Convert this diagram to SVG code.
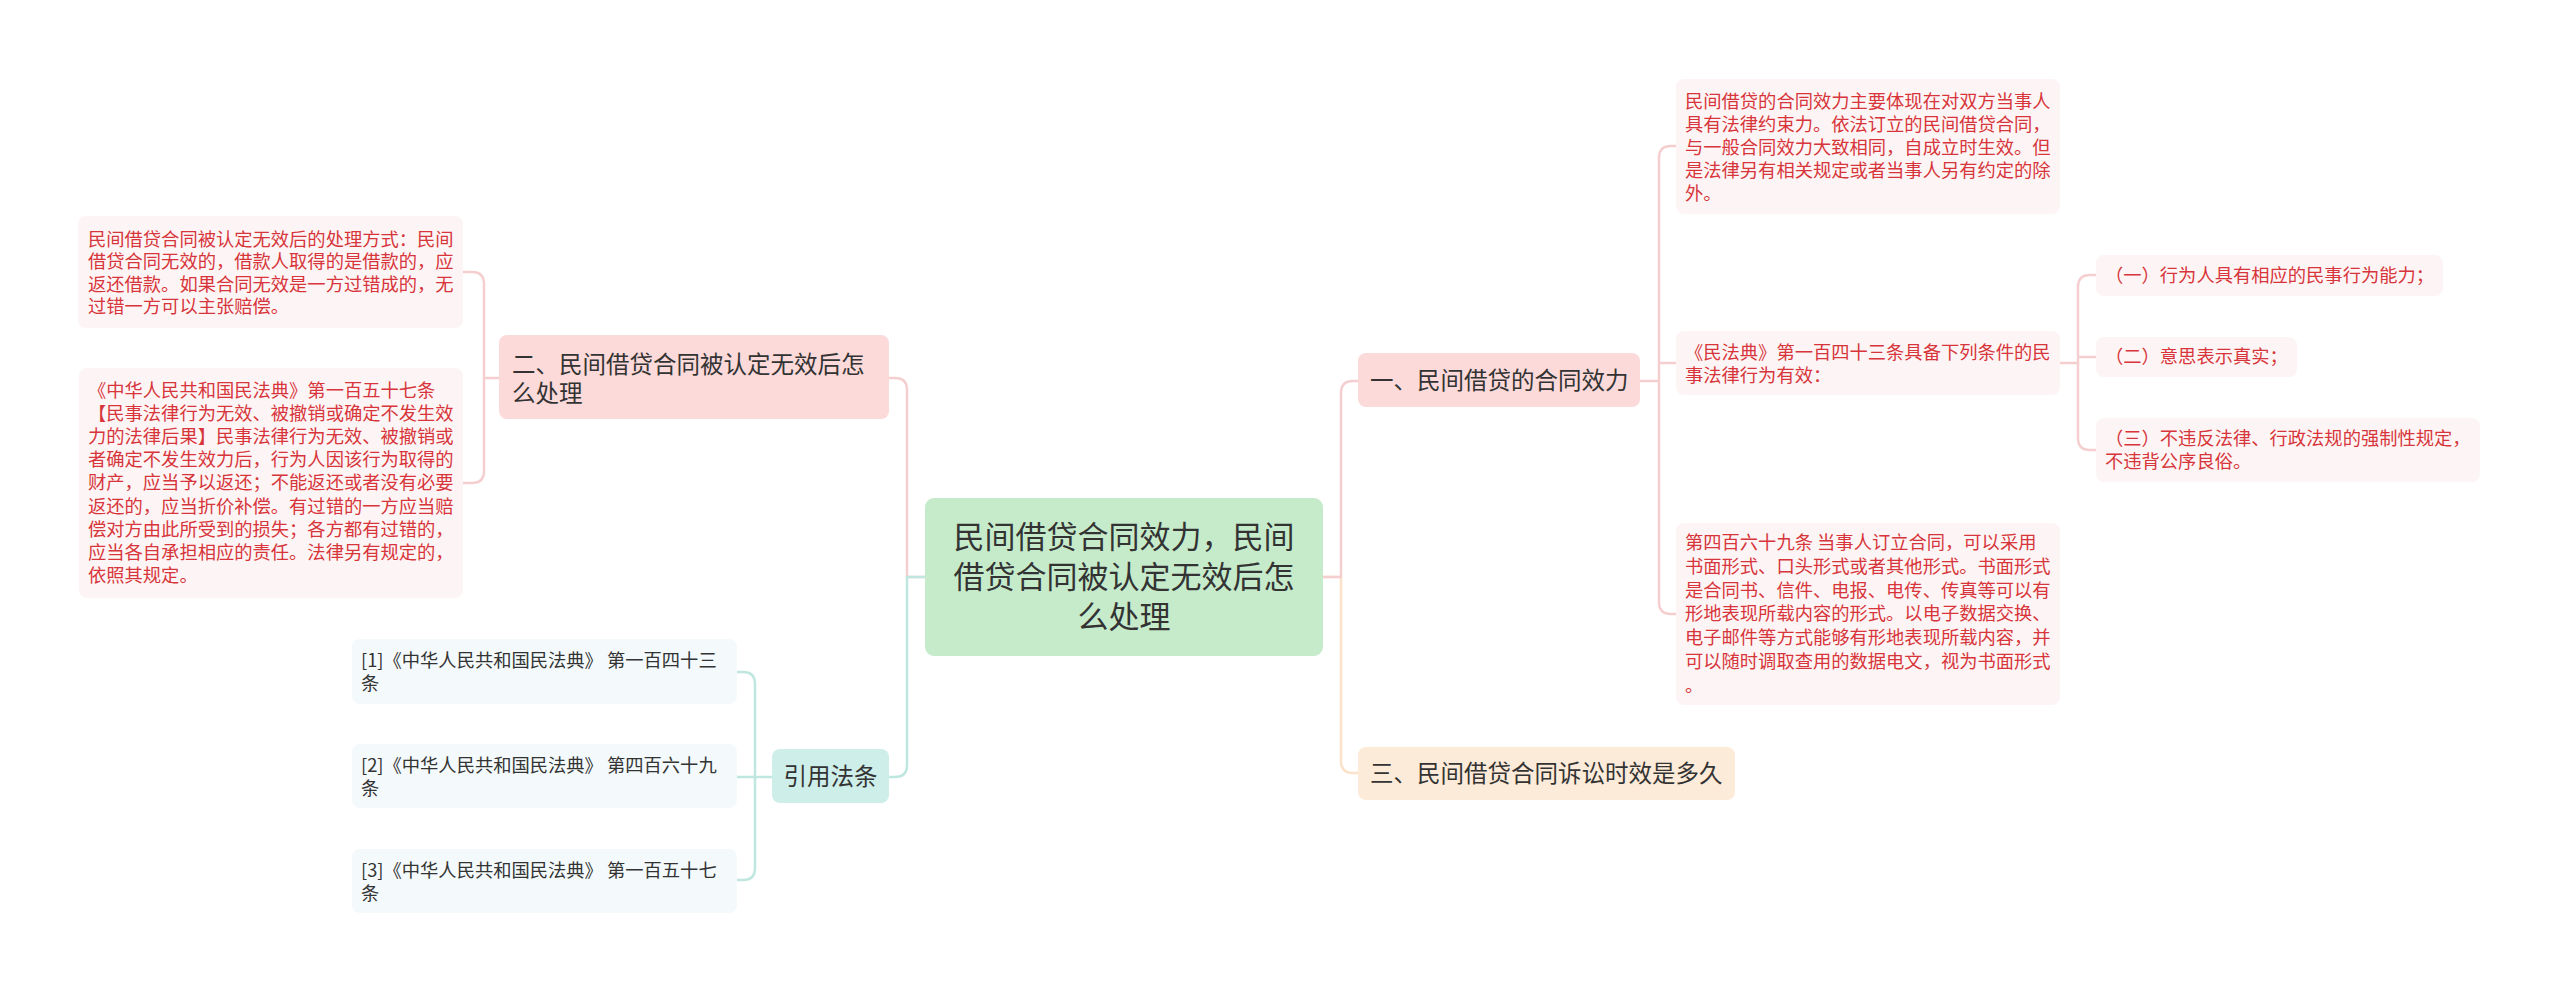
<svg xmlns="http://www.w3.org/2000/svg" width="2560" height="993" viewBox="0 0 2560 993">
<style>
text{font-family:"Noto Sans CJK SC","Noto Sans",sans-serif;}
.root rect{fill:#c6ebcb;}
.root text{font-size:31px;fill:#333;text-anchor:middle;}
.br text{font-size:23.5px;fill:#333;}
.pk rect{fill:#fcdada;}
.cr rect{fill:#fdebd9;}
.tl rect{fill:#ceeee9;}
.lf rect{fill:#fdf5f5;}
.lf text{font-size:18.3px;fill:#d7353b;}
.rf rect{fill:#f4fafb;}
.rf text{font-size:18.3px;fill:#333;}
.c{fill:none;stroke-width:2.5;}
.cp{stroke:#f5cfd0;}
.ct{stroke:#bfe7df;}
.cc{stroke:#fbe3cb;}
</style>
<rect width="2560" height="993" fill="#fff"/>
<g id="connectors">
<path class="c cp" d="M925,577 H907 V390 Q907,378 895,378 H889"/>
<path class="c ct" d="M925,577 H907 V765 Q907,777 895,777 H889"/>
<path class="c cp" d="M499,378 H484 V284 Q484,272 472,272 H463"/>
<path class="c cp" d="M484,378 V471 Q484,483 472,483 H463"/>
<path class="c ct" d="M772,777 H755 V684 Q755,672 743,672 H737"/>
<path class="c ct" d="M755,777 H737"/>
<path class="c ct" d="M755,777 V868 Q755,880 743,880 H737"/>
<path class="c cc" d="M1323,577 H1341 V761 Q1341,773 1353,773 H1358"/>
<path class="c cp" d="M1323,577 H1341 V393 Q1341,381 1353,381 H1358"/>
<path class="c cp" d="M1640,381 H1659 V158 Q1659,146 1671,146 H1676"/>
<path class="c cp" d="M1659,363 H1676"/>
<path class="c cp" d="M1659,381 V602 Q1659,614 1671,614 H1676"/>
<path class="c cp" d="M2060,363 H2078 V287 Q2078,275 2090,275 H2096"/>
<path class="c cp" d="M2078,357 H2096"/>
<path class="c cp" d="M2078,363 V438 Q2078,450 2090,450 H2096"/>
</g>
<g id="root" class="root">
<rect x="925" y="498" width="398" height="158" rx="9"/>
<text x="1124" y="548">民间借贷合同效力，民间</text>
<text x="1124" y="588">借贷合同被认定无效后怎</text>
<text x="1124" y="628">么处理</text>
</g>
<g id="branch2" class="br pk">
<rect x="499" y="335" width="390" height="84" rx="8"/>
<text x="512" y="373">二、民间借贷合同被认定无效后怎</text>
<text x="512" y="402">么处理</text>
</g>
<g id="leaf2a" class="lf">
<rect x="78" y="216" width="385" height="112" rx="8"/>
<text x="88" y="245.5">民间借贷合同被认定无效后的处理方式：民间</text>
<text x="88" y="268">借贷合同无效的，借款人取得的是借款的，应</text>
<text x="88" y="290.5">返还借款。如果合同无效是一方过错成的，无</text>
<text x="88" y="313">过错一方可以主张赔偿。</text>
</g>
<g id="leaf2b" class="lf">
<rect x="79" y="368" width="384" height="230" rx="8"/>
<text x="88" y="397">《中华人民共和国民法典》第一百五十七条</text>
<text x="88" y="420.1">【民事法律行为无效、被撤销或确定不发生效</text>
<text x="88" y="443.2">力的法律后果】民事法律行为无效、被撤销或</text>
<text x="88" y="466.3">者确定不发生效力后，行为人因该行为取得的</text>
<text x="88" y="489.4">财产，应当予以返还；不能返还或者没有必要</text>
<text x="88" y="512.5">返还的，应当折价补偿。有过错的一方应当赔</text>
<text x="88" y="535.6">偿对方由此所受到的损失；各方都有过错的，</text>
<text x="88" y="558.7">应当各自承担相应的责任。法律另有规定的，</text>
<text x="88" y="581.8">依照其规定。</text>
</g>
<g id="refs" class="br tl">
<rect x="772" y="749" width="117" height="54" rx="8"/>
<text x="830.5" y="785" text-anchor="middle">引用法条</text>
</g>
<g id="ref1" class="rf">
<rect x="352" y="639" width="385" height="65" rx="8"/>
<text x="361" y="666.5">[1]《中华人民共和国民法典》 第一百四十三</text>
<text x="361" y="690">条</text>
</g>
<g id="ref2" class="rf">
<rect x="352" y="744" width="385" height="64" rx="8"/>
<text x="361" y="771.5">[2]《中华人民共和国民法典》 第四百六十九</text>
<text x="361" y="795">条</text>
</g>
<g id="ref3" class="rf">
<rect x="352" y="849" width="385" height="64" rx="8"/>
<text x="361" y="876.5">[3]《中华人民共和国民法典》 第一百五十七</text>
<text x="361" y="900">条</text>
</g>
<g id="branch1" class="br pk">
<rect x="1358" y="353" width="282" height="54" rx="8"/>
<text x="1370" y="389">一、民间借贷的合同效力</text>
</g>
<g id="branch3" class="br cr">
<rect x="1358" y="747" width="377" height="53" rx="8"/>
<text x="1370" y="782">三、民间借贷合同诉讼时效是多久</text>
</g>
<g id="leaf1a" class="lf">
<rect x="1676" y="79" width="384" height="135" rx="8"/>
<text x="1685" y="107.5">民间借贷的合同效力主要体现在对双方当事人</text>
<text x="1685" y="130.5">具有法律约束力。依法订立的民间借贷合同，</text>
<text x="1685" y="153.5">与一般合同效力大致相同，自成立时生效。但</text>
<text x="1685" y="176.5">是法律另有相关规定或者当事人另有约定的除</text>
<text x="1685" y="199.5">外。</text>
</g>
<g id="leaf1b" class="lf">
<rect x="1676" y="331" width="384" height="64" rx="8"/>
<text x="1685" y="359">《民法典》第一百四十三条具备下列条件的民</text>
<text x="1685" y="382">事法律行为有效：</text>
</g>
<g id="leaf1c" class="lf">
<rect x="1676" y="523" width="384" height="182" rx="8"/>
<text x="1685" y="549">第四百六十九条 当事人订立合同，可以采用</text>
<text x="1685" y="572.8">书面形式、口头形式或者其他形式。书面形式</text>
<text x="1685" y="596.6">是合同书、信件、电报、电传、传真等可以有</text>
<text x="1685" y="620.4">形地表现所载内容的形式。以电子数据交换、</text>
<text x="1685" y="644.2">电子邮件等方式能够有形地表现所载内容，并</text>
<text x="1685" y="668">可以随时调取查用的数据电文，视为书面形式</text>
<text x="1685" y="691.8">。</text>
</g>
<g id="leafD" class="lf">
<rect x="2096" y="255" width="347" height="41" rx="8"/>
<text x="2105" y="282.4">（一）行为人具有相应的民事行为能力；</text>
</g>
<g id="leafE" class="lf">
<rect x="2096" y="337" width="201" height="40" rx="8"/>
<text x="2105" y="363.4">（二）意思表示真实；</text>
</g>
<g id="leafF" class="lf">
<rect x="2096" y="418" width="384" height="64" rx="8"/>
<text x="2105" y="445.4">（三）不违反法律、行政法规的强制性规定，</text>
<text x="2105" y="468.4">不违背公序良俗。</text>
</g>
</svg>
